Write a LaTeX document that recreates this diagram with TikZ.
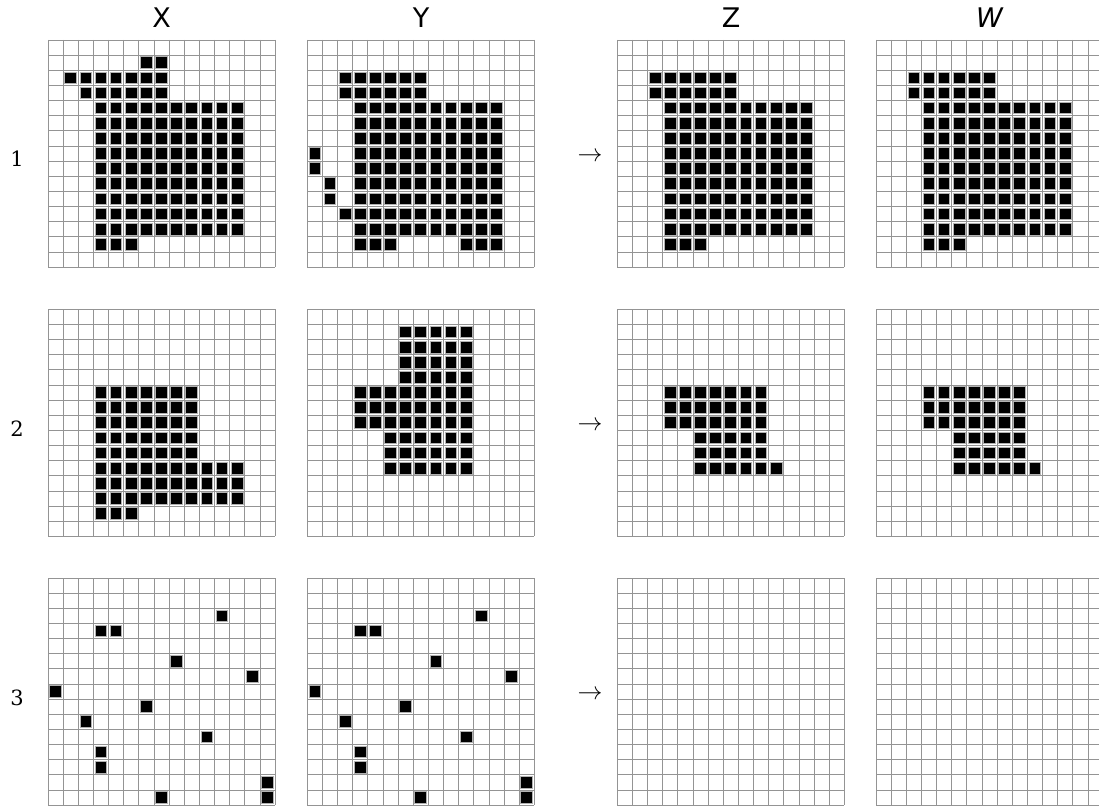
\documentclass[tikz,border=0pt]{standalone}
\usepackage{fontspec}
\newfontfamily\hdrfont{DejaVu Sans}
\newfontfamily\labfont{DejaVu Serif}
\def\cs{15.1333}
\newcommand\gridat[2]{%
  \foreach \i in {0,...,15}{%
    \draw[gridline] ({#1+\i*\cs},#2) -- ({#1+\i*\cs},{#2+15*\cs});
    \draw[gridline] (#1,{#2+\i*\cs}) -- ({#1+15*\cs},{#2+\i*\cs});
  }}
\newcommand\blk[4]{\draw[cellbox] ({#1+#3*\cs+1.7},{#2+#4*\cs+1.7}) rectangle ++(11.7,11.7);}
\newcommand\blks[6]{\foreach \cc in {#3,...,#4}{\foreach \rr in {#5,...,#6}{\blk{#1}{#2}{\cc}{\rr}}}}
\newcommand\spots[3]{\foreach \cc/\rr in {#3}{\blk{#1}{#2}{\cc}{\rr}}}
\begin{document}
\begin{tikzpicture}[x=1pt,y=-1pt,
  gridline/.style={draw=black!42, line width=0.7pt},
  cellbox/.style={fill=black, draw=black!30, line width=0.9pt},
  hdr/.style={font=\hdrfont\fontsize{27}{32}\selectfont, anchor=base, inner sep=0pt},
  rowlab/.style={font=\labfont\fontsize{21}{26}\selectfont, anchor=base, inner sep=0pt},
  arr/.style={font=\fontsize{25}{30}\selectfont, inner sep=0pt}]
\useasboundingbox (0,0) rectangle (1099,805);

% headers
\node[hdr] (hX) at (161.5,27.7) {X};
\node[hdr] (hY) at (421,27.7) {Y};
\node[hdr] (hZ) at (731,27.7) {Z};
\node[hdr, font=\hdrfont\itshape\fontsize{27}{32}\selectfont] (hW) at (989.5,27.7) {W};

% row labels and arrows
\node[rowlab] (l1) at (17,167) {1};
\node[rowlab] (l2) at (17,436) {2};
\node[rowlab] (l3) at (17,705) {3};
\node[arr] (a1) at (590,157) {$\rightarrow$};
\node[arr] (a2) at (590,426) {$\rightarrow$};
\node[arr] (a3) at (590,695) {$\rightarrow$};

% grids
\foreach \gx in {48,307.3,617.3,876}{
  \foreach \gy in {40,309.3,578}{
    \gridat{\gx}{\gy}
  }
}

% row 1, X
\blks{48}{40}{6}{7}{1}{1}
\blks{48}{40}{1}{7}{2}{2}
\blks{48}{40}{2}{7}{3}{3}
\blks{48}{40}{3}{12}{4}{12}
\blks{48}{40}{3}{5}{13}{13}
% row 1, Y
\blks{307.3}{40}{2}{7}{2}{3}
\blks{307.3}{40}{3}{12}{4}{12}
\blks{307.3}{40}{0}{0}{7}{8}
\blks{307.3}{40}{1}{1}{9}{10}
\blk{307.3}{40}{2}{11}
\blks{307.3}{40}{3}{5}{13}{13}
\blks{307.3}{40}{10}{12}{13}{13}
% row 1, Z and W
\foreach \gx in {617.3,876}{
  \blks{\gx}{40}{2}{7}{2}{3}
  \blks{\gx}{40}{3}{12}{4}{12}
  \blks{\gx}{40}{3}{5}{13}{13}
}

% row 2, X
\blks{48}{309.3}{3}{9}{5}{9}
\blks{48}{309.3}{3}{12}{10}{12}
\blks{48}{309.3}{3}{5}{13}{13}
% row 2, Y
\blks{307.3}{309.3}{6}{10}{1}{4}
\blks{307.3}{309.3}{3}{10}{5}{7}
\blks{307.3}{309.3}{5}{10}{8}{10}
% row 2, Z and W
\foreach \gx in {617.3,876}{
  \blks{\gx}{309.3}{3}{9}{5}{7}
  \blks{\gx}{309.3}{5}{9}{8}{9}
  \blks{\gx}{309.3}{5}{10}{10}{10}
}

% row 3, X and Y
\foreach \gx in {48,307.3}{
  \spots{\gx}{578}{11/2,3/3,4/3,8/5,13/6,0/7,6/8,2/9,10/10,3/11,3/12,14/13,7/14,14/14}
}
\end{tikzpicture}
\end{document}
